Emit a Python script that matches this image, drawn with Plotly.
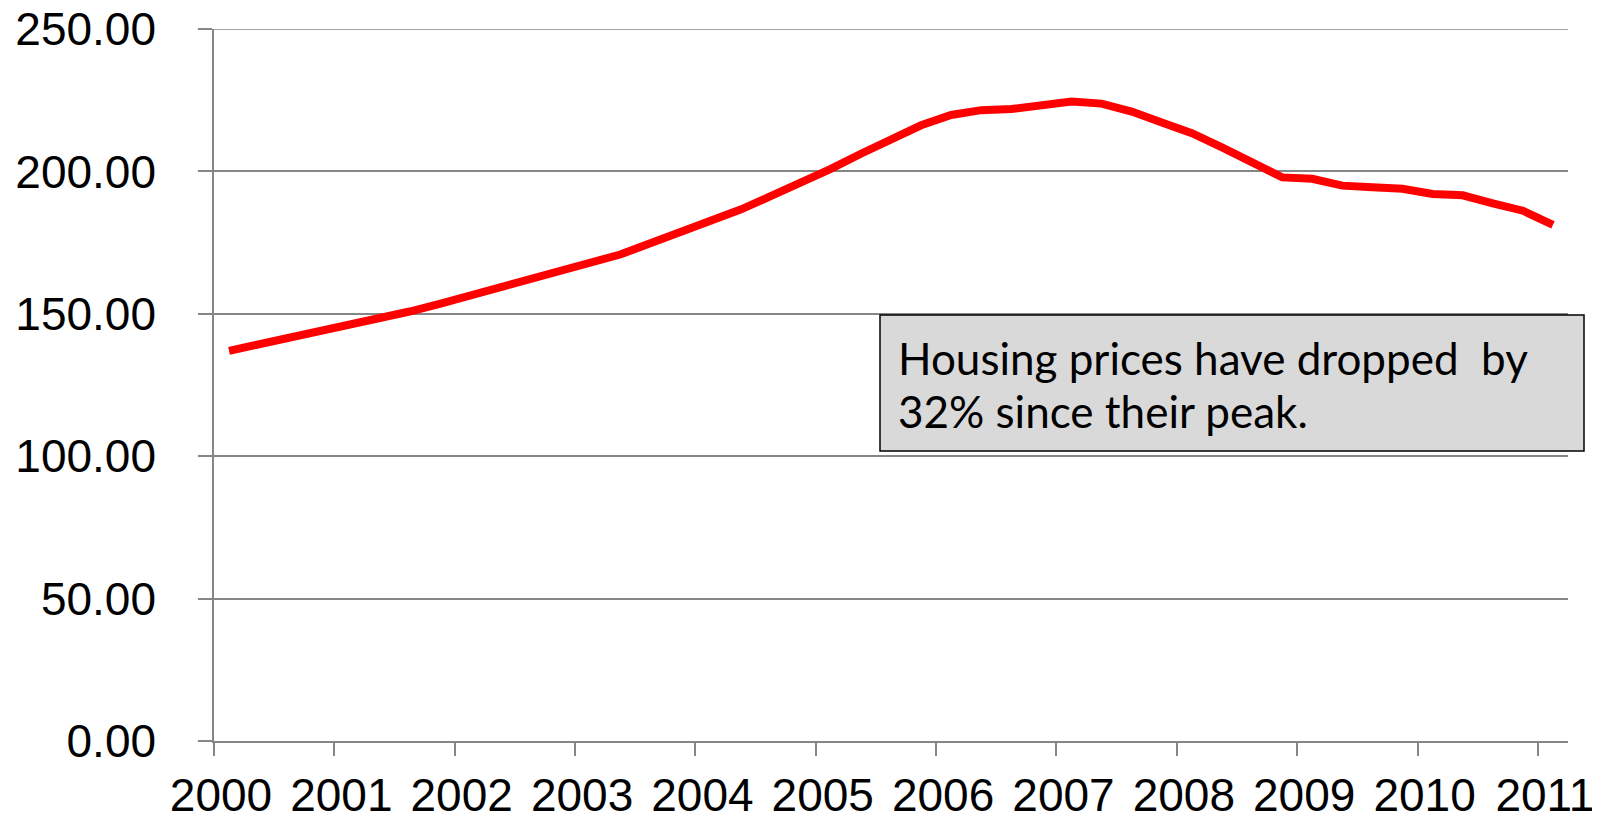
import plotly.graph_objects as go

# Quarterly housing price index, 2000 Q1 .. 2011 Q1
years = [2000 + i // 4 for i in range(45)]
quarters = [i % 4 + 1 for i in range(45)]
prices = [137.0, 139.2, 141.5, 143.6, 145.8, 148.3, 150.8, 153.5, 156.3, 159.2,
          162.1, 165.1, 168.0, 170.8, 174.8, 178.5, 182.2, 186.6, 191.3, 196.0,
          200.9, 206.2, 211.4, 216.2, 219.8, 221.5, 221.9, 223.1, 224.5, 223.8,
          221.0, 217.2, 213.4, 208.4, 203.4, 197.9, 197.4, 195.0, 194.4, 193.9,
          192.1, 191.6, 188.8, 186.2, 181.2]
tick_years = list(range(2000, 2012))
y_ticks = [0, 50, 100, 150, 200, 250]
note_lines = ["Housing prices have dropped\u00a0 by", "32% since their peak."]

x_pos = [y + (q - 0.5) / 4 for y, q in zip(years, quarters)]

GRAY = "#868686"
TICKFONT = dict(family="Liberation Sans, Arial, sans-serif", size=46, color="#000000")

fig = go.Figure()
fig.add_trace(go.Scatter(
    x=x_pos, y=prices, mode="lines",
    line=dict(color="#ff0000", width=8),
    showlegend=False, hoverinfo="skip",
))

fig.update_layout(
    width=1600, height=820,
    margin=dict(l=206, r=40, t=21, b=87),
    paper_bgcolor="white", plot_bgcolor="white",
    xaxis=dict(
        range=[2000, 2011.25], automargin=False,
        tickmode="array", tickvals=tick_years, ticktext=[str(t) for t in tick_years],
        ticks="outside", ticklen=13, tickwidth=1.5, tickcolor=GRAY,
        showline=True, linecolor=GRAY, linewidth=1.5,
        showgrid=False, zeroline=False, ticklabeloverflow="allow",
        tickfont=TICKFONT, ticklabelshift=7, ticklabelstandoff=0,
    ),
    yaxis=dict(
        range=[0, 250], automargin=False,
        tickmode="array", tickvals=y_ticks, ticktext=[f"{v:.2f}" for v in y_ticks],
        ticks="outside", ticklen=14, tickwidth=1.5, tickcolor=GRAY,
        showline=True, linecolor=GRAY, linewidth=1.5,
        showgrid=True, gridcolor=GRAY, gridwidth=1.5, zeroline=False,
        ticklabeloverflow="allow",
        tickfont=TICKFONT, ticklabelstandoff=33,
    ),
)

# top gridline (plotly omits the grid line at the range edge)
fig.add_shape(type="line", xref="paper", yref="y", x0=0, x1=1, y0=y_ticks[-1], y1=y_ticks[-1],
              line=dict(color=GRAY, width=1.5), layer="below")

# note box (pixel positions relative to the plot area, origin at its bottom-left)
PW, PH = 1354, 712
x0p = (880 - 214) / PW
x1p = (1584 - 214) / PW
y0p = (741 - 451) / PH
y1p = (741 - 315) / PH
fig.add_shape(type="rect", xref="paper", yref="paper",
              x0=x0p, x1=x1p, y0=y0p, y1=y1p,
              fillcolor="#d9d9d9", line=dict(color="#000000", width=1.5), layer="above")
for line_text, ypx in zip(note_lines, [358, 411]):
    fig.add_annotation(xref="paper", yref="paper", x=(897 - 214) / PW, y=(741 - ypx) / PH,
                       xanchor="left", yanchor="middle", align="left", showarrow=False,
                       text=line_text, borderpad=0,
                       font=dict(family="Lato, Carlito, Calibri, sans-serif", size=44, color="#000000"))

fig.write_html("out.html")
